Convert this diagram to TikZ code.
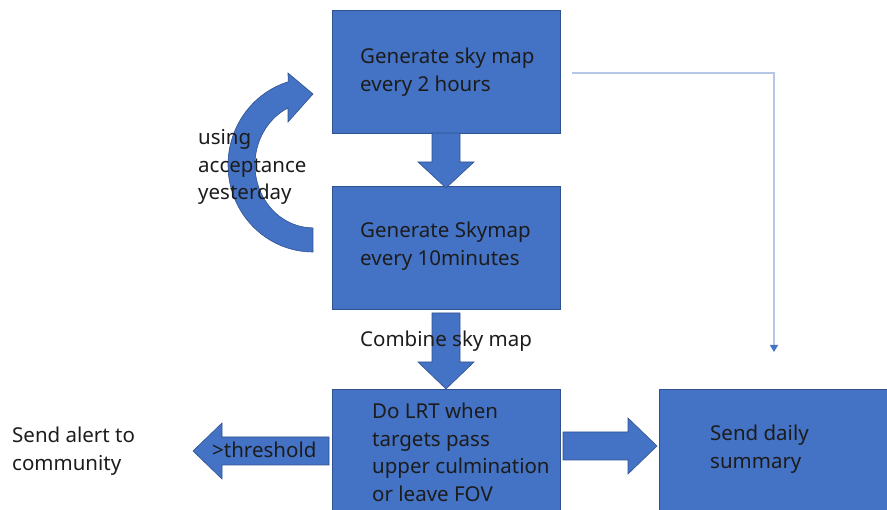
\documentclass[tikz,border=0pt]{standalone}
\usepackage{fontspec}
\setmainfont{Noto Sans}
\usetikzlibrary{calc,arrows.meta}
\definecolor{boxblue}{HTML}{4472C4}
\definecolor{edgeblue}{HTML}{2F528F}
\definecolor{txt}{HTML}{1C1C1C}
\definecolor{thinblue}{HTML}{B4C7E7}
\begin{document}
\begin{tikzpicture}[x=1pt,y=-1pt,
  blk/.style={draw=edgeblue, line width=0.6pt, fill=boxblue, minimum width=228pt,
    minimum height=123pt, inner sep=0pt, anchor=north west},
  lbl/.style={align=left, inner sep=0pt, text=txt,
    font=\fontsize{20.5}{27.8}\selectfont},
  barrow/.style={draw=edgeblue, line width=0.6pt, fill=boxblue, line join=miter},
  link/.style={draw=thinblue, line width=1.2pt,
    -{Triangle[length=7pt,width=8pt,color=boxblue]}}]
\useasboundingbox (0,0) rectangle (887,510);
\clip (0,0) rectangle (887,510);

% process boxes
\node[blk] (b1) at (332,10) {};
\node[blk] (b2) at (332,186) {};
\node[blk, minimum height=126pt] (b3) at (332,389) {};
\node[blk, minimum width=232pt, minimum height=126pt] (b4) at (659,389) {};

% box texts
\node[lbl, anchor=west] (t1) at ($(b1.west)+(28,0)$) {Generate sky map\\every 2 hours};
\node[lbl, anchor=west] (t2) at ($(b2.west)+(28,-2)$) {Generate Skymap\\every 10minutes};
\node[lbl, anchor=west] (t3) at ($(b3.west)+(40,0)$) {Do LRT when\\targets pass\\upper culmination\\or leave FOV};
\node[lbl, anchor=west] (t4) at ($(b4.west)+(51,-3)$) {Send daily\\summary};

% block arrows between the boxes
\draw[barrow] (432,133) -- (460,133) -- (460,162) -- (474,162) -- (446,188)
  -- (418,162) -- (432,162) -- cycle;
\draw[barrow] (432,313) -- (460,313) -- (460,362) -- (474,362) -- (446,389)
  -- (418,362) -- (432,362) -- cycle;
\draw[barrow] (563,432) -- (628,432) -- (628,418) -- (657,446) -- (628,474)
  -- (628,460) -- (563,460) -- cycle;
\draw[barrow] (329,437) -- (222,437) -- (222,423) -- (193,451) -- (222,479)
  -- (222,465) -- (329,465) -- cycle;

% curved feedback arrow
\draw[barrow] (313,252) arc[start angle=90, end angle=253, x radius=85, y radius=87]
  -- (288,73) -- (313,94) -- (288,122) -- (288,108)
  arc[start angle=244.5, end angle=90, x radius=58, y radius=63] -- cycle;

% free labels
\node[lbl, anchor=west] (acc) at (198,167) {using\\acceptance\\yesterday};
\node[lbl, anchor=base west] (comb) at (360,347) {Combine sky map};
\node[lbl, anchor=base west] (thr) at (212,458) {>threshold};
\node[lbl, anchor=west] (alert) at (12,451) {Send alert to\\community};

% thin connector to the daily summary
\coordinate (c1) at (572,73);
\coordinate (c2) at (774,352);
\draw[link] (c1) -| (c2);
\end{tikzpicture}
\end{document}
